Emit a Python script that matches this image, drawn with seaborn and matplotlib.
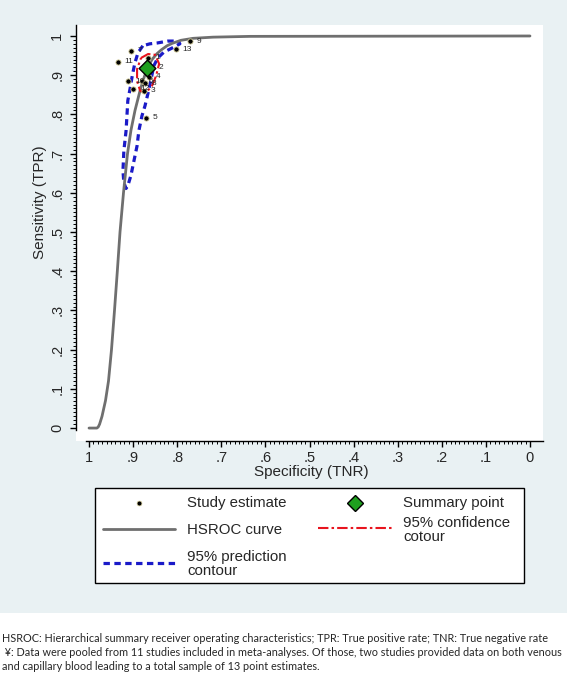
import numpy as np
import matplotlib
matplotlib.use("Agg")
import matplotlib.pyplot as plt
import seaborn as sns
from matplotlib.lines import Line2D
from matplotlib.patches import Rectangle

# study estimates (specificity, sensitivity)
study_id = [1, 2, 3, 4, 5, 6, 7, 8, 9, 10, 11, 12, 13]
study_spec = [0.866, 0.857, 0.875, 0.864, 0.871, 0.880, 0.905, 0.873, 0.771, 0.911, 0.935, 0.900, 0.803]
study_sens = [0.944, 0.919, 0.860, 0.896, 0.791, 0.885, 0.962, 0.880, 0.987, 0.885, 0.934, 0.865, 0.966]

summary_spec = [0.869]
summary_sens = [0.919]

# HSROC curve
hsroc_spec = [1.0, 0.988, 0.982, 0.979, 0.976, 0.9705, 0.9626, 0.9558, 0.949, 0.9422, 0.9358,
              0.9297, 0.9218, 0.9127, 0.9048, 0.8957, 0.8844, 0.8764, 0.8673, 0.8571, 0.8458,
              0.8356, 0.8231, 0.8118, 0.7914, 0.7642, 0.7188, 0.6349, 0.0]
hsroc_sens = [0.0, 0.0, 0.0, 0.003, 0.010, 0.030, 0.070, 0.120, 0.200, 0.300, 0.400,
              0.500, 0.600, 0.700, 0.760, 0.810, 0.860, 0.890, 0.920, 0.940, 0.955,
              0.965, 0.975, 0.981, 0.989, 0.994, 0.997, 0.999, 1.0]

# 95% confidence contour
conf_spec = [0.882, 0.866, 0.850, 0.841, 0.848, 0.857, 0.871, 0.884, 0.891, 0.891, 0.882]
conf_sens = [0.944, 0.954, 0.952, 0.929, 0.898, 0.873, 0.855, 0.860, 0.885, 0.916, 0.944]

# 95% prediction contour
pred_spec = [0.878, 0.889, 0.896, 0.902, 0.907, 0.912, 0.914, 0.916, 0.921, 0.923, 0.921, 0.916,
             0.912, 0.905, 0.898, 0.891, 0.887, 0.880, 0.873, 0.866, 0.859, 0.853, 0.844, 0.830,
             0.812, 0.794, 0.798, 0.821, 0.846, 0.862, 0.878]
pred_sens = [0.975, 0.957, 0.931, 0.898, 0.865, 0.835, 0.796, 0.758, 0.707, 0.656, 0.626, 0.611,
             0.618, 0.644, 0.682, 0.720, 0.758, 0.796, 0.822, 0.855, 0.891, 0.924, 0.944, 0.959,
             0.969, 0.980, 0.987, 0.987, 0.982, 0.980, 0.975]

tick_vals = [0, 0.1, 0.2, 0.3, 0.4, 0.5, 0.6, 0.7, 0.8, 0.9, 1.0]
tick_labels = ['0', '.1', '.2', '.3', '.4', '.5', '.6', '.7', '.8', '.9', '1']

caption = ["HSROC: Hierarchical summary receiver operating characteristics; TPR: True positive rate; TNR: True negative rate",
           " \u00a5: Data were pooled from 11 studies included in meta-analyses. Of those, two studies provided data on both venous",
           "and capillary blood leading to a total sample of 13 point estimates."]

sns.set_style("ticks")
plt.rcParams['font.family'] = ['Liberation Sans', 'DejaVu Sans']

W, H = 567, 676
fx = lambda x: x / W
fy = lambda y: 1 - y / H

fig = plt.figure(figsize=(W / 100, H / 100), dpi=100)
fig.patch.set_facecolor('white')
fig.add_artist(Rectangle((0, fy(613)), 1, 613 / H, transform=fig.transFigure,
                         facecolor='#e9f1f3', edgecolor='none', zorder=-10))

ax = fig.add_axes([fx(76), fy(441), (543 - 76) / W, (441 - 25) / H])
ax.set_facecolor('white')

blue = '#1a1ac8'
red = '#e8141e'
grey = '#6f6f6f'
green = '#1fa01f'

sns.lineplot(x=pred_spec, y=pred_sens, sort=False, estimator=None, color=blue, lw=2.3,
             linestyle=(0, (2, 1.4)), ax=ax, zorder=2)
sns.lineplot(x=hsroc_spec, y=hsroc_sens, sort=False, estimator=None, color=grey, lw=2,
             ax=ax, zorder=3)
sns.lineplot(x=conf_spec, y=conf_sens, sort=False, estimator=None, color=red, lw=1.5,
             linestyle=(0, (5, 1.5, 1.2, 1.5)), ax=ax, zorder=4)
sns.scatterplot(x=study_spec, y=study_sens, color='black', s=14, edgecolor='#d4cc98',
                linewidth=0.6, ax=ax, zorder=5)
for i, xs, ys in zip(study_id, study_spec, study_sens):
    ax.annotate(str(i), (xs, ys), xytext=(5, 0), textcoords='offset points',
                fontsize=6, va='center', ha='left', zorder=6)
sns.scatterplot(x=summary_spec, y=summary_sens, marker='D', s=72, color=green,
                edgecolor='black', linewidth=1, ax=ax, zorder=7)

ax.set_xlim(1.0295, -0.0295)
ax.set_ylim(-0.033, 1.028)
ax.set_xticks(tick_vals)
ax.set_xticklabels(tick_labels)
ax.set_yticks(tick_vals)
ax.set_yticklabels(tick_labels)
ax.set_xticks(np.arange(0, 101) / 100, minor=True)
ax.set_yticks(np.arange(0, 101) / 100, minor=True)
ax.tick_params(which='both', bottom=True, left=True, top=False, right=False, direction='out',
               color='black')
ax.tick_params(axis='x', which='major', length=4.5, width=1, labelsize=10.5, pad=3)
ax.tick_params(axis='y', which='major', length=4.5, width=1, labelsize=10.5, pad=4)
ax.tick_params(which='minor', length=2.2, width=0.7)
for t in ax.get_yticklabels():
    t.set_rotation(90)
    t.set_va('center')

for s in ['top', 'right']:
    ax.spines[s].set_visible(False)
ax.spines['left'].set_bounds(-0.004, 1.028)
ax.spines['bottom'].set_bounds(1.007, -0.0295)
for s in ['left', 'bottom']:
    ax.spines[s].set_color('black')
    ax.spines[s].set_linewidth(1)

ax.set_xlabel('Specificity (TNR)', fontsize=11)
ax.xaxis.set_label_coords((311 - 76) / 467, (441 - 465) / 416)
ax.set_ylabel('Sensitivity (TPR)', fontsize=11)
ax.yaxis.set_label_coords((47 - 76) / 467, (441 - 202) / 416)

# legend box
fig.add_artist(Rectangle((fx(95), fy(583)), (524 - 95) / W, (583 - 488) / H,
                         transform=fig.transFigure, facecolor='white', edgecolor='black', lw=1))
tf = fig.transFigure
fig.add_artist(Line2D([fx(139)], [fy(503)], marker='o', ms=3.5, color='black',
                      mec='#d4cc98', mew=0.5, transform=tf))
fig.add_artist(Line2D([fx(103), fx(175)], [fy(529), fy(529)], color=grey, lw=2, transform=tf))
fig.add_artist(Line2D([fx(103), fx(175)], [fy(563), fy(563)], color=blue, lw=2.3,
                      linestyle=(0, (2, 1.4)), transform=tf))
fig.add_artist(Line2D([fx(355)], [fy(503)], marker='D', ms=8.5, mfc=green, mec='black',
                      mew=1, transform=tf))
fig.add_artist(Line2D([fx(318), fx(392)], [fy(528), fy(528)], color=red, lw=1.5,
                      linestyle=(0, (5, 1.5, 1.2, 1.5)), transform=tf))
fig.text(fx(187), fy(503), 'Study estimate', fontsize=10.8, va='center')
fig.text(fx(187), fy(530), 'HSROC curve', fontsize=10.8, va='center')
fig.text(fx(187), fy(564), '95% prediction\ncontour', fontsize=10.8, va='center', linespacing=0.95)
fig.text(fx(403), fy(503), 'Summary point', fontsize=10.8, va='center')
fig.text(fx(403), fy(530), '95% confidence\ncotour', fontsize=10.8, va='center', linespacing=0.95)

# caption
cap_texts = []
for line, ypix in zip(caption, [638, 652, 666]):
    cap_texts.append(fig.text(fx(2), fy(ypix), line, fontsize=7, va='center',
                              family=['Lato', 'DejaVu Sans']))
renderer = fig.canvas.get_renderer()
w = cap_texts[1].get_window_extent(renderer).width
fs = 7 * 560 / w
for t in cap_texts:
    t.set_fontsize(fs)

fig.savefig('out.png', dpi=100)
